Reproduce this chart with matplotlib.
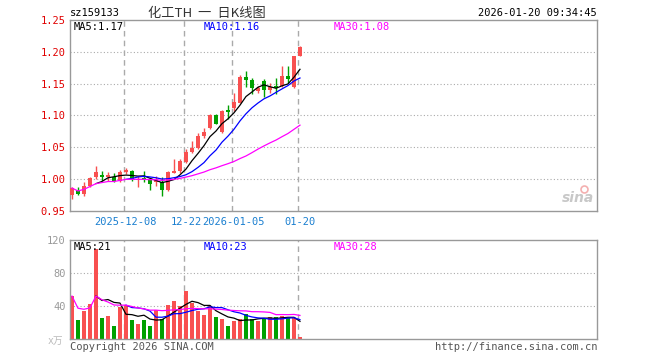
import numpy as np
import pandas as pd
import matplotlib
matplotlib.use("Agg")
import matplotlib.pyplot as plt

# daily candles (price in CNY, volume in 万手)
opens = [0.975, 0.983, 0.977, 0.989, 1.004, 1.006, 1.003, 1.003, 0.997, 1.011,
         1.013, 0.998, 1.002, 0.998, 0.995, 0.995, 0.983, 1.010, 1.013, 1.027,
         1.042, 1.049, 1.068, 1.081, 1.100, 1.074, 1.109, 1.112, 1.120, 1.160,
         1.155, 1.138, 1.154, 1.140, 1.147, 1.147, 1.162, 1.145, 1.194]
highs = [0.987, 0.987, 0.995, 1.003, 1.021, 1.013, 1.012, 1.009, 1.015, 1.017,
         1.015, 1.005, 1.013, 1.000, 1.005, 1.003, 1.013, 1.031, 1.031, 1.048,
         1.060, 1.072, 1.081, 1.102, 1.102, 1.109, 1.116, 1.136, 1.164, 1.170,
         1.159, 1.147, 1.158, 1.151, 1.159, 1.177, 1.178, 1.193, 1.209]
lows = [0.969, 0.975, 0.974, 0.987, 1.000, 0.997, 0.997, 0.995, 0.995, 1.008,
        0.997, 0.987, 0.995, 0.983, 0.990, 0.973, 0.982, 1.009, 1.010, 1.026,
        1.041, 1.048, 1.065, 1.079, 1.086, 1.073, 1.094, 1.107, 1.119, 1.145,
        1.134, 1.135, 1.129, 1.135, 1.134, 1.145, 1.151, 1.143, 1.193]
closes = [0.986, 0.977, 0.989, 1.002, 1.011, 1.003, 1.006, 0.997, 1.011, 1.015,
          1.000, 1.001, 0.999, 0.992, 0.998, 0.983, 1.011, 1.013, 1.029, 1.043,
          1.049, 1.068, 1.074, 1.100, 1.087, 1.107, 1.106, 1.121, 1.160, 1.155,
          1.143, 1.143, 1.140, 1.145, 1.143, 1.162, 1.158, 1.193, 1.207]
volumes = [52, 22.6, 33.5, 42.8, 109.5, 25, 28.3, 16.2, 38.8, 41.6,
           22.6, 18.6, 22.6, 15.4, 35.6, 24.2, 41.6, 45.7, 39.6, 58.6,
           43.2, 33.5, 28.7, 39.6, 26.3, 23.8, 15.4, 21.4, 24.6, 30,
           24, 22, 25, 26.5, 27, 28, 25, 25, 2]

date_ticks = [9, 19, 27, 38]
date_labels = ["2025-12-08", "12-22", "2026-01-05", "01-20"]
price_ticks = [0.95, 1.00, 1.05, 1.10, 1.15, 1.20, 1.25]
vol_ticks = [40, 80, 120]

RED = "#f85050"
GREEN = "#00a000"
GRID = "#aaaaaa"
FRAME = "#999999"
MONO = ["DejaVu Sans Mono", "Noto Sans CJK SC"]

c = pd.Series(closes)
v = pd.Series(volumes)
ma5 = c.rolling(5).mean()
ma10 = c.rolling(10).mean()
ma30 = c.rolling(30, min_periods=1).mean()
vma5 = v.rolling(5).mean()
vma10 = v.rolling(10).mean()
vma30 = v.rolling(30, min_periods=1).mean()

x = np.arange(len(closes))
o = np.array(opens)
cl = np.array(closes)
up = cl >= o
colors = [RED if u else GREEN for u in up]

fig = plt.figure(figsize=(6.6, 3.6), dpi=100)
ax = fig.add_axes([70/660, 1-211/360, 527/660, 191/360])
axv = fig.add_axes([70/660, 1-339/360, 527/660, 99/360])

for a in (ax, axv):
    a.set_xlim(-0.33, 87.5)
    for s in a.spines.values():
        s.set_color(FRAME)
        s.set_linewidth(1)
    a.tick_params(length=0)

# price panel
ax.set_ylim(0.95, 1.25)
for p in price_ticks[1:-1]:
    ax.axhline(p, color=GRID, lw=0.8, ls=(0, (1, 2)), zorder=0)
for t in date_ticks:
    ax.axvline(t - 0.25, color=GRID, lw=1, ls=(0, (4, 3)), zorder=0)

ax.vlines(x, lows, highs, colors=colors, lw=1, zorder=2)
body_h = np.maximum(np.abs(cl - o), 0.0012)
ax.bar(x, body_h, bottom=np.minimum(cl, o), width=0.75, color=colors, zorder=3)
ax.plot(x, ma5, color="black", lw=0.9, zorder=4)
ax.plot(x, ma10, color="#0000ff", lw=0.9, zorder=4)
ax.plot(x, ma30, color="#ff00ff", lw=0.9, zorder=4)

ax.set_yticks(price_ticks)
ax.set_yticklabels([f"{p:.2f}" for p in price_ticks], color="#e00000",
                   fontsize=7.5, family=MONO)
ax.tick_params(axis="y", pad=3)
ax.set_xticks(date_ticks)
ax.set_xticklabels(date_labels, color="#1a7fd0", fontsize=7.5, family=MONO)
ax.tick_params(axis="x", pad=4)

ax.text(4/527, 1 - 7/191, "MA5:1.17", transform=ax.transAxes, color="black",
        fontsize=7.5, family=MONO, va="center")
ax.text(134/527, 1 - 7/191, "MA10:1.16", transform=ax.transAxes, color="#0000ff",
        fontsize=7.5, family=MONO, va="center")
ax.text(264/527, 1 - 7/191, "MA30:1.08", transform=ax.transAxes, color="#ff00ff",
        fontsize=7.5, family=MONO, va="center")

# sina watermark
ax.text(0.995, 0.03, "sina", transform=ax.transAxes, ha="right", va="bottom",
        color="#c8c8c8", fontsize=10, style="italic", weight="bold",
        family="DejaVu Sans")
ax.plot([0.975], [0.115], "o", transform=ax.transAxes, ms=5, mfc="none",
        mec="#f4b0b0", mew=1.2)

# volume panel
axv.set_ylim(0, 120)
for p in vol_ticks[:-1]:
    axv.axhline(p, color=GRID, lw=0.8, ls=(0, (1, 2)), zorder=0)
for t in [date_ticks[0], date_ticks[1], date_ticks[3]]:
    axv.axvline(t - 0.25, color=GRID, lw=1, ls=(0, (4, 3)), zorder=0)
axv.bar(x, volumes, width=0.75, color=colors, zorder=2)
axv.plot(x, vma5, color="black", lw=0.9, zorder=3)
axv.plot(x, vma10, color="#0000ff", lw=0.9, zorder=3)
axv.plot(x, vma30, color="#ff00ff", lw=0.9, zorder=3)
axv.set_xticks([])
axv.set_yticks(vol_ticks)
axv.set_yticklabels([str(t) for t in vol_ticks], color=FRAME, fontsize=7.5,
                    family=MONO)
axv.tick_params(axis="y", pad=3)

axv.text(4/527, 1 - 7/99, "MA5:21", transform=axv.transAxes, color="black",
         fontsize=7.5, family=MONO, va="center")
axv.text(134/527, 1 - 7/99, "MA10:23", transform=axv.transAxes, color="#0000ff",
         fontsize=7.5, family=MONO, va="center")
axv.text(264/527, 1 - 7/99, "MA30:28", transform=axv.transAxes, color="#ff00ff",
         fontsize=7.5, family=MONO, va="center")

# header and footer
fig.text(70/660, 1 - 13/360, "sz159133", color="black", fontsize=7.5,
         family=MONO, va="center")
fig.text(207/660, 1 - 13/360, "化工TH  一  日K线图", color="#333333", fontsize=9.5,
         family=["Noto Sans CJK SC", "DejaVu Sans Mono"], ha="center", va="center")
fig.text(597/660, 1 - 13/360, "2026-01-20 09:34:45", color="black", fontsize=7.5,
         family=MONO, ha="right", va="center")
fig.text(63/660, 1 - 341/360, "x万", color="#bbbbbb", fontsize=7,
         family=["DejaVu Sans Mono", "Noto Sans CJK SC"], ha="right", va="center")
fig.text(70/660, 1 - 347/360, "Copyright 2026 SINA.COM", color="#555555",
         fontsize=7.5, family=MONO, va="center")
fig.text(597/660, 1 - 347/360, "http://finance.sina.com.cn", color="#555555",
         fontsize=7.5, family=MONO, ha="right", va="center")

fig.savefig("out.png", dpi=100)
